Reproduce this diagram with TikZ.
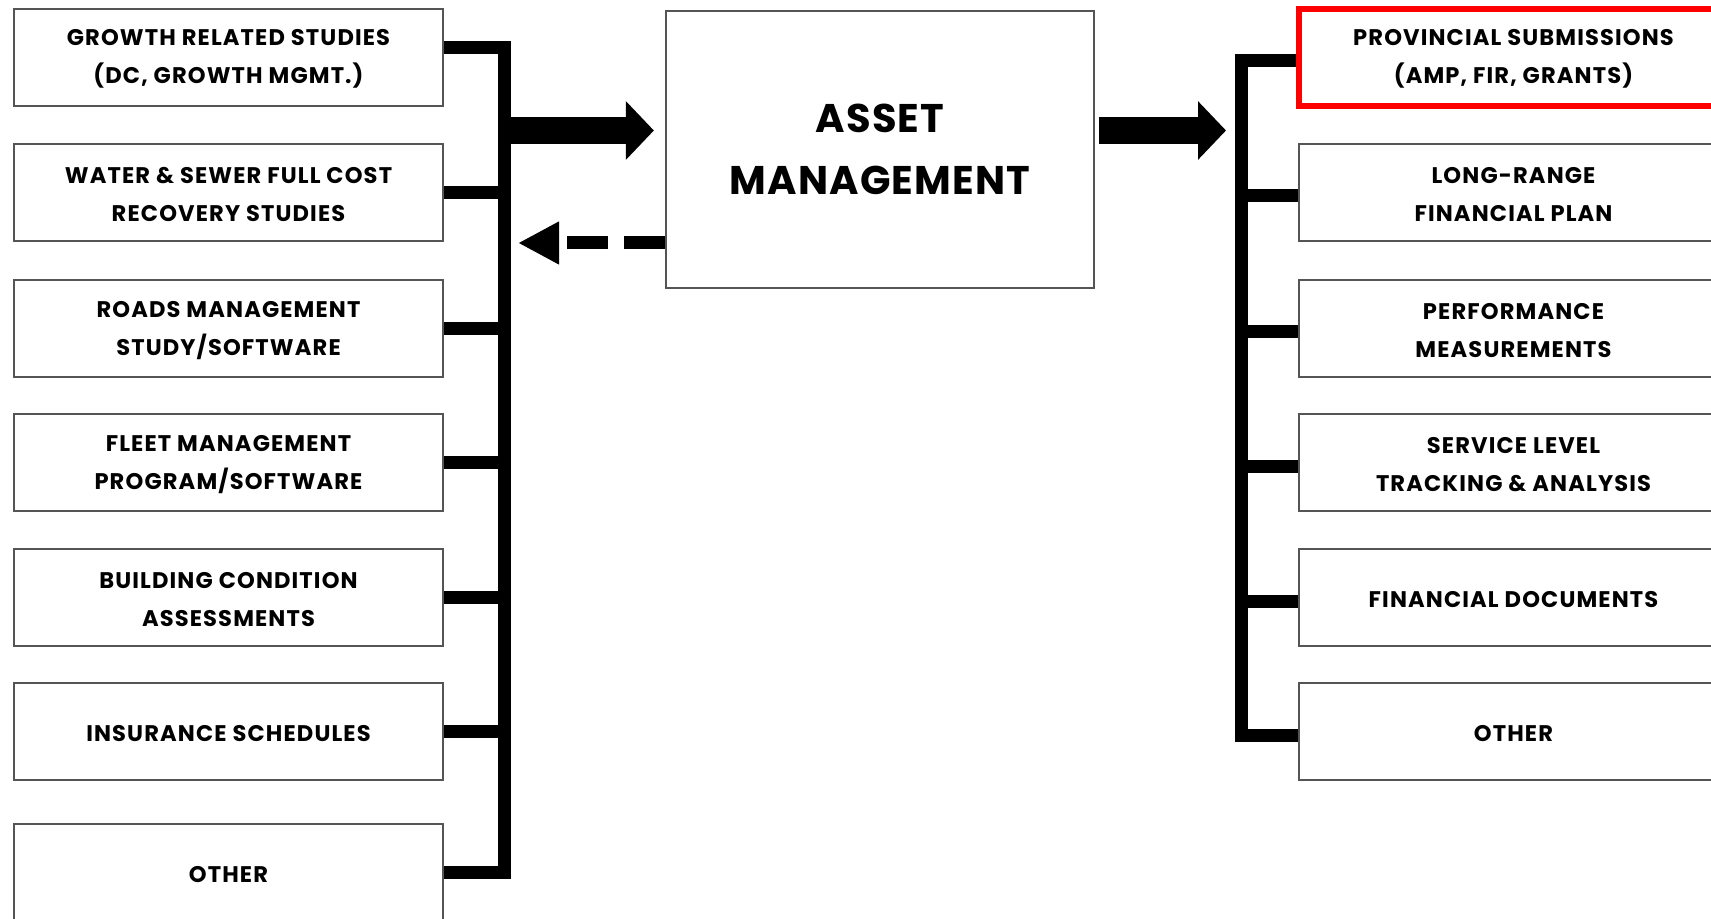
\documentclass[tikz,border=0pt]{standalone}
\usepackage{fontspec}
\setmainfont{Poppins}
\usetikzlibrary{arrows.meta}
\definecolor{boxgray}{HTML}{555555}
\definecolor{hilite}{HTML}{FF0000}
\begin{document}
\begin{tikzpicture}[x=0.5pt,y=-0.5pt,
  txt/.style={inner sep=0pt, align=center, yshift=-0.9pt,
    font=\fontsize{11.3}{19}\selectfont\bfseries\addfontfeature{LetterSpace=5}},
  item/.style={draw=boxgray, line width=1.1pt, fill=white,
    minimum width=214.5pt, minimum height=48.5pt, inner sep=0pt,
    label={[txt]center:{#1}}},
  core/.style={draw=boxgray, line width=1.1pt, fill=white,
    minimum width=214pt, minimum height=138.5pt, inner sep=0pt,
    align=center, font=\fontsize{20}{31}\selectfont\bfseries\addfontfeature{LetterSpace=3}},
  flagged/.style={item={#1}, draw=hilite, line width=2.75pt},
  bus/.style={line width=6.5pt, line cap=butt, line join=miter},
  fatarrow/.style={line width=13.5pt, line cap=butt,
    -{Triangle[length=14pt,width=28.5pt]}},
  backarrow/.style={line width=6.5pt, line cap=butt,
    dash pattern=on 20.5pt off 8pt,
    -{Triangle[length=20.5pt,width=20pt]}}]

\useasboundingbox (0,0) rectangle (1711,919);
\clip (0,0) rectangle (1711,919);

% input studies (left column)
\node[item={GROWTH RELATED STUDIES\\(DC, GROWTH MGMT.)}] (g1) at (228.5,57.5) {};
\node[item={WATER \& SEWER FULL COST\\RECOVERY STUDIES}] (g2) at (228.5,192.5) {};
\node[item={ROADS MANAGEMENT\\STUDY/SOFTWARE}] (g3) at (228.5,328.5) {};
\node[item={FLEET MANAGEMENT\\PROGRAM/SOFTWARE}] (g4) at (228.5,462.5) {};
\node[item={BUILDING CONDITION\\ASSESSMENTS}] (g5) at (228.5,597.5) {};
\node[item={INSURANCE SCHEDULES}] (g6) at (228.5,731.5) {};
\node[item={OTHER}] (g7) at (228.5,872.5) {};

% central block
\node[core] (am) at (880,149.5) {ASSET\\MANAGEMENT};

% outputs (right column)
\node[flagged={PROVINCIAL SUBMISSIONS\\(AMP, FIR, GRANTS)}] (p1) at (1513.5,57.5) {};
\node[item={LONG-RANGE\\FINANCIAL PLAN}] (p2) at (1513.5,192.5) {};
\node[item={PERFORMANCE\\MEASUREMENTS}] (p3) at (1513.5,328.5) {};
\node[item={SERVICE LEVEL\\TRACKING \& ANALYSIS}] (p4) at (1513.5,462.5) {};
\node[item={FINANCIAL DOCUMENTS}] (p5) at (1513.5,597.5) {};
\node[item={OTHER}] (p6) at (1513.5,731.5) {};

% bus coordinates
\coordinate (lbTop) at (504,47.5);
\coordinate (lbBot) at (504,872.5);
\coordinate (lbArr) at (504,130.5);
\coordinate (lbBack) at (504,243);
\coordinate (rbTop) at (1241,61);
\coordinate (rbBot) at (1241,735);
\coordinate (rbArr) at (1241,130.5);

% left collector bus
\draw[bus] ([yshift=5pt]g1.east) -- (lbTop) -- (lbBot) -- (g7.east);
\foreach \n in {g2,g3,g4,g5,g6}
  \draw[bus] (\n.east) -- (\n.east -| lbTop);

% right distribution bus
\draw[bus] ([yshift=-1.75pt]p1.west) -- (rbTop) -- (rbBot) -- ([yshift=-1.75pt]p6.west);
\foreach \n in {p2,p3,p4,p5}
  \draw[bus] ([yshift=-1.75pt]\n.west) -- ([yshift=-1.75pt]\n.west -| rbTop);

% flows into and out of the central block
\draw[fatarrow, shorten >=5.5pt] (lbArr) -- (am.west |- lbArr);
\draw[fatarrow, shorten <=2pt, shorten >=7.5pt] (am.east |- rbArr) -- (rbArr);
\draw[backarrow, shorten >=7pt] (am.west |- lbBack) -- (lbBack);
\end{tikzpicture}
\end{document}
